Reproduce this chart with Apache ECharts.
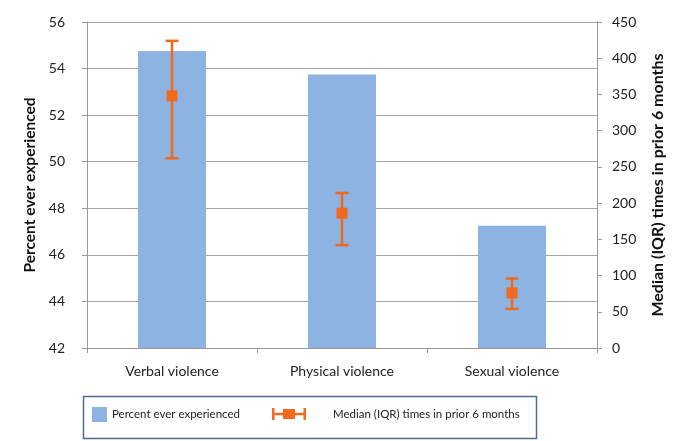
<!DOCTYPE html>
<html>
<head>
<meta charset="utf-8">
<script src="https://cdn.jsdelivr.net/npm/echarts@6/dist/echarts.min.js"></script>
<style>html,body{margin:0;padding:0;background:#fff}#c{width:685px;height:441px}</style>
</head>
<body>
<div id="c"></div>
<script>
const categories = ['Verbal violence', 'Physical violence', 'Sexual violence'];
const percentEver = [54.75, 53.75, 47.25];
const medianTimes = [348, 186, 76];
const iqrLow = [262, 142, 54];
const iqrHigh = [424, 214, 96];
const leftTicks = { min: 42, max: 56, interval: 2 };
const rightTicks = { min: 0, max: 450, interval: 50 };
const barName = 'Percent ever experienced';
const errName = 'Median (IQR) times in prior 6 months';

const BLUE = '#8DB3E2';
const ORANGE = '#F0691C';
const FONT = 'Lato';

const errData = categories.map((c, i) => [i, iqrLow[i], medianTimes[i], iqrHigh[i]]);

const chart = echarts.init(document.getElementById('c'));
chart.setOption({
  animation: false,
  textStyle: { fontFamily: FONT },
  grid: { left: 87, right: 88, top: 22, bottom: 93 },
  xAxis: {
    type: 'category',
    data: categories,
    axisLine: { lineStyle: { color: '#999', width: 1 } },
    axisTick: { show: true, length: 5, lineStyle: { color: '#999' } },
    axisLabel: { color: '#222', fontSize: 14, margin: 16, fontFamily: FONT }
  },
  yAxis: [
    {
      type: 'value', min: leftTicks.min, max: leftTicks.max, interval: leftTicks.interval,
      name: barName, nameLocation: 'middle', nameGap: 47, nameRotate: 90,
      nameTextStyle: { fontSize: 15.5, fontWeight: 'bold', color: '#111', fontFamily: FONT },
      axisLine: { show: true, lineStyle: { color: '#999' } },
      axisTick: { show: true, length: 5, lineStyle: { color: '#999' } },
      axisLabel: { color: '#222', fontSize: 14, margin: 22, fontFamily: FONT },
      splitLine: { show: true, lineStyle: { color: '#a6a6a6', width: 1 } }
    },
    {
      type: 'value', min: rightTicks.min, max: rightTicks.max, interval: rightTicks.interval,
      position: 'right',
      name: errName, nameLocation: 'middle', nameGap: 53, nameRotate: 90,
      nameTextStyle: { fontSize: 16, fontWeight: 'bold', color: '#111', fontFamily: FONT },
      axisLine: { show: true, lineStyle: { color: '#999' } },
      axisTick: { show: true, length: 5, lineStyle: { color: '#999' } },
      axisLabel: { color: '#222', fontSize: 14, margin: 15, fontFamily: FONT },
      splitLine: { show: false }
    }
  ],
  legend: [
    {
      data: [{ name: barName, icon: 'rect' }],
      left: 92, top: 407, padding: 0, itemWidth: 15, itemHeight: 15, selectedMode: false,
      textStyle: { fontSize: 11.5, color: '#222', fontFamily: FONT }
    },
    {
      data: [{ name: errName, icon: 'path://M0,0H2.5V4.75H11V1H23V4.75H31.5V0H34V12H31.5V7.25H23V11H11V7.25H2.5V12H0Z', itemStyle: { color: ORANGE } }],
      left: 272, top: 408, padding: 0, itemWidth: 34, itemHeight: 12, selectedMode: false,
      textStyle: { fontSize: 11.5, color: '#222', fontFamily: FONT, padding: [0, 0, 0, 22] }
    }
  ],
  graphic: [
    { type: 'rect', left: 81, top: 394, shape: { width: 453, height: 42 }, style: { fill: 'none', stroke: '#4F6E8F', lineWidth: 1.5 }, silent: true, z: -1 }
  ],
  series: [
    {
      name: barName, type: 'bar', data: percentEver, yAxisIndex: 0, z: 2,
      barWidth: '40%', itemStyle: { color: BLUE }
    },
    {
      name: errName, type: 'custom', yAxisIndex: 1, data: errData, z: 5,
      encode: { x: 0, y: [1, 2, 3] },
      itemStyle: { color: ORANGE },
      renderItem: function (params, api) {
        const x = api.value(0);
        const lo = api.coord([x, api.value(1)]);
        const md = api.coord([x, api.value(2)]);
        const hi = api.coord([x, api.value(3)]);
        const hw = 6.5, sq = 11;
        const ls = { stroke: ORANGE, lineWidth: 2.5 };
        return {
          type: 'group',
          children: [
            { type: 'line', shape: { x1: lo[0], y1: lo[1], x2: hi[0], y2: hi[1] }, style: ls },
            { type: 'line', shape: { x1: lo[0] - hw, y1: lo[1], x2: lo[0] + hw, y2: lo[1] }, style: ls },
            { type: 'line', shape: { x1: hi[0] - hw, y1: hi[1], x2: hi[0] + hw, y2: hi[1] }, style: ls },
            { type: 'rect', shape: { x: md[0] - sq / 2, y: md[1] - sq / 2, width: sq, height: sq }, style: { fill: ORANGE } }
          ]
        };
      }
    }
  ]
});
</script>
</body>
</html>
